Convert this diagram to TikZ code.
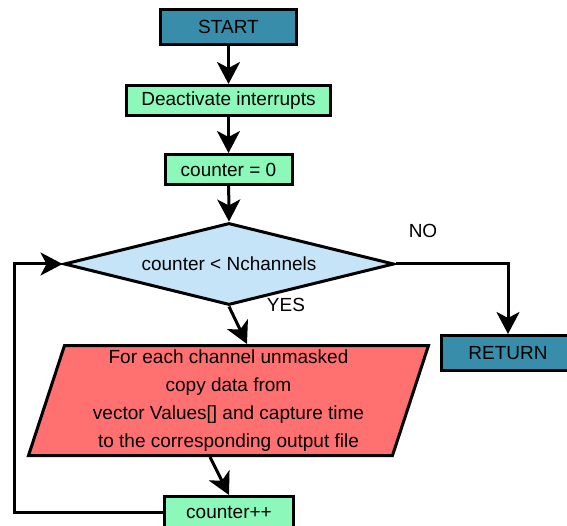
\documentclass[tikz,border=0pt]{standalone}
\usepackage{fontspec}
\setmainfont{Liberation Sans}
\usetikzlibrary{shapes.geometric,arrows.meta,calc}

\definecolor{termblue}{RGB}{56,142,170}
\definecolor{procgreen}{RGB}{140,248,186}
\definecolor{decblue}{RGB}{198,228,248}
\definecolor{iored}{RGB}{255,112,112}

\tikzset{
  base/.style={draw=black, line width=3pt, inner sep=0pt, text=black,
    font=\fontsize{19}{22}\selectfont},
  terminal/.style={base, fill=termblue, rectangle},
  process/.style={base, fill=procgreen, rectangle},
  decision/.style={base, fill=decblue, diamond, shape aspect=4,
    minimum width=330pt, minimum height=82pt},
  iobox/.style={base, fill=iored, trapezium, trapezium left angle=70.5,
    trapezium right angle=109.5, trapezium stretches body,
    align=center, font=\fontsize{19}{28}\selectfont},
  flow/.style={line width=3pt, -{Stealth[length=22pt, width=23pt, inset=6pt]}},
  lbl/.style={font=\fontsize{19}{22}\selectfont}
}

\begin{document}
\begin{tikzpicture}[x=1pt, y=-1pt]
  \useasboundingbox (0,0) rectangle (567,526);

  % steps of the routine
  \node[terminal, minimum width=136pt, minimum height=35pt] (start) at (228.5,27) {START};
  \node[process, minimum width=204pt, minimum height=30pt] (deact) at (228.5,100.5) {Deactivate interrupts};
  \node[process, minimum width=127pt, minimum height=30pt] (zero) at (228.5,169.5) {counter = 0};
  \node[decision] (test) at (229,264) {counter < Nchannels};
  \node[terminal, minimum width=133pt, minimum height=35pt] (ret) at (508,353) {RETURN};
  \node[iobox, minimum width=400pt, minimum height=110pt] (copy) at (228.5,400.5)
    {For each channel unmasked\\copy data from\\vector Values[] and capture time\\to the corresponding output file};
  \node[process, minimum width=129pt, minimum height=31pt] (inc) at (229,512) {counter++};

  % midpoints of the slanted box's top and bottom sides
  \coordinate (copytop) at ($(copy.top left corner)!0.5!(copy.top right corner)$);
  \coordinate (copybot) at ($(copy.bottom left corner)!0.5!(copy.bottom right corner)$);

  % branch labels
  \node[lbl] (no) at (423,231) {NO};
  \node[lbl] (yes) at (286,305) {YES};

  % connectors
  \draw[flow] (start) -- (deact);
  \draw[flow] (deact) -- (zero);
  \draw[flow] (zero) -- (test.north);
  \draw[flow] (test.east) -| (ret.north);
  \draw[flow] (test.south) -- (copytop);
  \draw[flow] (copybot) -- (inc.north);
  \coordinate (loopcorner) at (14,512);
  \draw[flow] (inc.west) -- (loopcorner) |- (test.west);
\end{tikzpicture}
\end{document}
